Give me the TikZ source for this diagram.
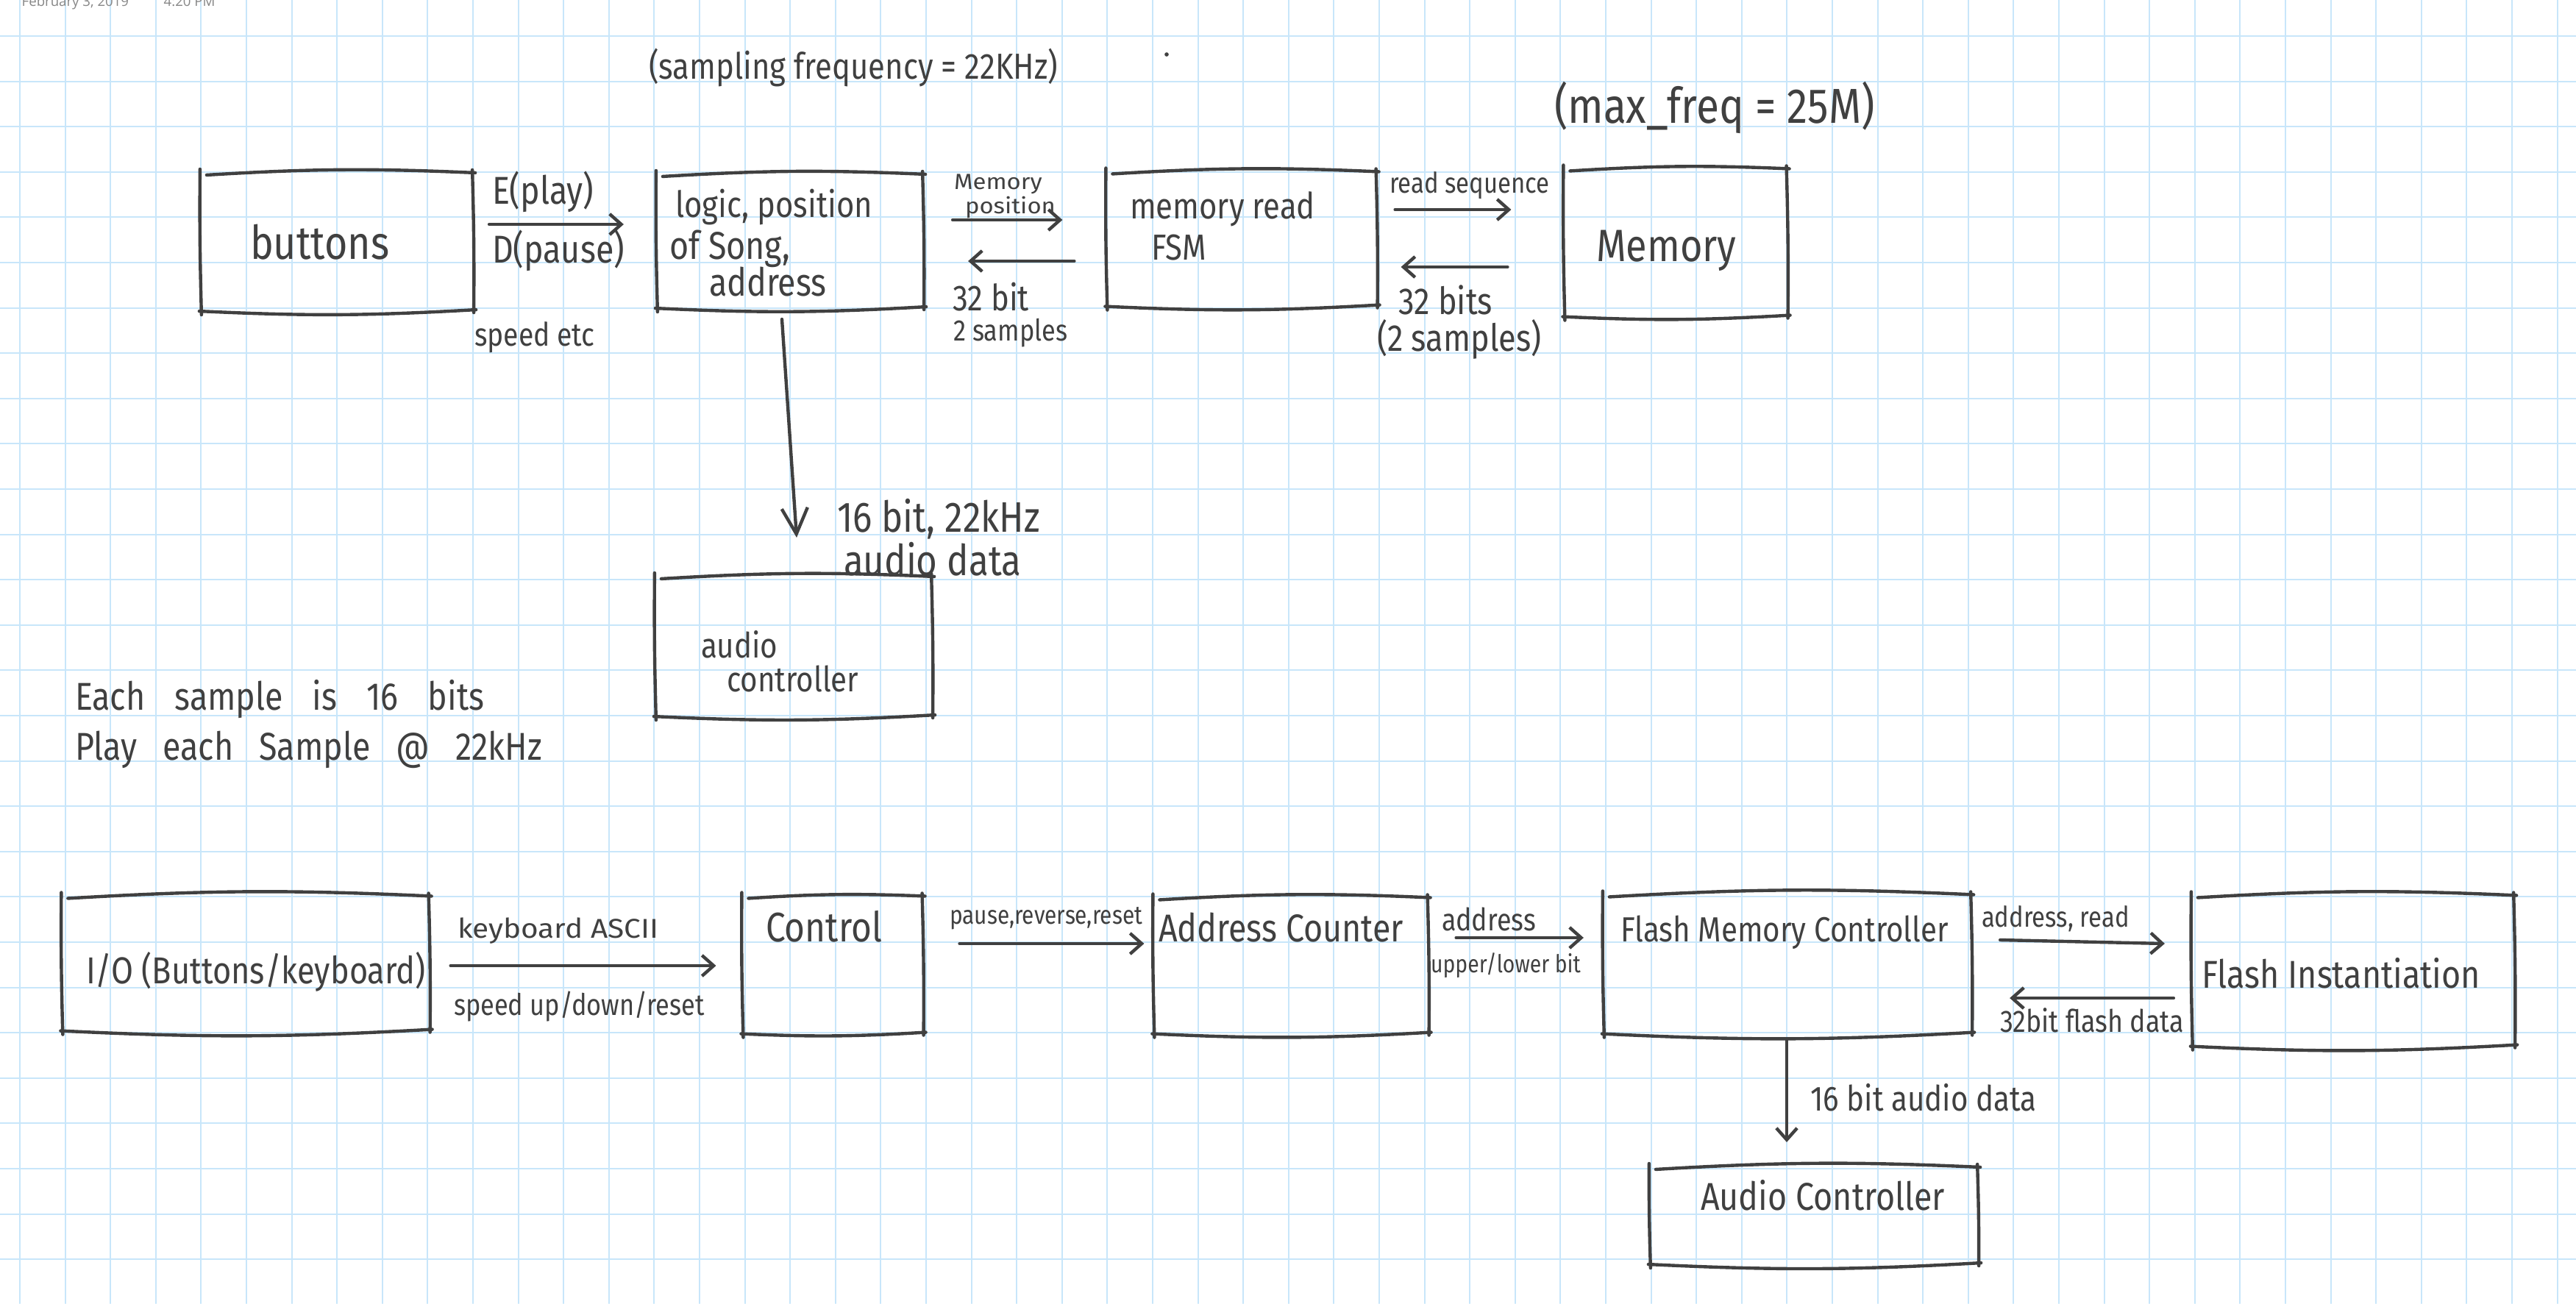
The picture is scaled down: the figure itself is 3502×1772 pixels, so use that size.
\documentclass[tikz,border=0pt]{standalone}
\usepackage{fontspec}
\setmainfont{Fira Sans}[FakeStretch=0.85]
\newfontfamily\handw{Fira Sans}[FakeStretch=1.1]
\newfontfamily\datefont{Open Sans}
\usetikzlibrary{arrows.meta}
\definecolor{ink}{RGB}{64,64,64}
\definecolor{gridblue}{RGB}{200,230,250}
\definecolor{stampgray}{RGB}{135,135,135}
\newcommand{\hsz}[1]{\fontsize{#1pt}{#1pt}\selectfont}

\begin{document}
\begin{tikzpicture}[x=0.01cm, y=-0.01cm, line cap=round, line join=round,
  box/.style={draw=none, inner sep=0, outer sep=0},
  sketch/.style={draw=ink, line width=1.25pt},
  arr/.style={draw=ink, line width=1.25pt, -{Straight Barb[length=4.5pt, width=8pt]}},
  bigarr/.style={draw=ink, line width=1.25pt, -{Straight Barb[length=10pt, width=10pt]}},
  txt/.style={inner sep=0, outer sep=0, text=ink, anchor=base west},
  gridline/.style={draw=gridblue, line width=0.6pt}]

\useasboundingbox (0,0) rectangle (3502,1772);
\fill[white] (0,0) rectangle (3502,1772);

% squared notebook paper
\foreach \k in {0,...,56} {\draw[gridline] ({27+61.6*\k},0) -- ({27+61.6*\k},1772);}
\foreach \k in {0,...,27} {\draw[gridline] (0,{49+61.6*\k}) -- (3502,{49+61.6*\k});}

% page stamp, cut by the top edge
\begin{scope}
  \clip (0,0) rectangle (3502,1772);
  \node[inner sep=0, anchor=base west, text=stampgray, font=\datefont\hsz{5.3}] (stampdate) at (29,8) {February 3, 2019};
  \node[inner sep=0, anchor=base west, text=stampgray, font=\datefont\hsz{5.3}] (stamptime) at (222,8) {4:20 PM};
\end{scope}

% ---------- first sketch: blocks ----------
\node[box, minimum width=3.70cm, minimum height=1.86cm] (buttons) at (458,329) {};
\node[box, minimum width=3.62cm, minimum height=1.80cm] (logic) at (1074,328) {};
\node[box, minimum width=3.67cm, minimum height=1.81cm] (fsm) at (1688,325) {};
\node[box, minimum width=3.03cm, minimum height=1.99cm] (memory) at (2278,330) {};
\node[box, minimum width=3.76cm, minimum height=1.88cm] (audioA) at (1079,879) {};

% ---------- second sketch: blocks ----------
\node[box, minimum width=4.99cm, minimum height=1.81cm] (io) at (334,1310) {};
\node[box, minimum width=2.45cm, minimum height=1.85cm] (control) at (1132,1312) {};
\node[box, minimum width=3.73cm, minimum height=1.83cm] (addr) at (1755,1313) {};
\node[box, minimum width=5.00cm, minimum height=1.87cm] (flashctl) at (2430,1311) {};
\node[box, minimum width=4.38cm, minimum height=2.03cm] (flashinst) at (3199,1320) {};
\node[box, minimum width=4.46cm, minimum height=1.30cm] (audioB) at (2466,1653) {};

% freehand outlines: four separate strokes per block
\foreach \b in {buttons,logic,fsm,memory,audioA,io,control,addr,flashctl,flashinst,audioB}{
  \draw[sketch] ([shift={(8,2)}]\b.north west) to[bend left=3] ([shift={(3,-1)}]\b.north east);
  \draw[sketch] ([shift={(-1,-5)}]\b.north east) to[bend left=1] ([shift={(1,3)}]\b.south east);
  \draw[sketch] ([shift={(4,-1)}]\b.south east) to[bend left=3] ([shift={(-2,1)}]\b.south west);
  \draw[sketch] ([shift={(1,6)}]\b.south west) to[bend left=1] ([shift={(-1,-6)}]\b.north west);
}

% ---------- connectors ----------
\draw[arr] ([shift={(22,-24)}]buttons.east) -- ([shift={(-45,-23)}]logic.west);
\draw[arr] ([shift={(40,-29)}]logic.east) -- ([shift={(-60,-26)}]fsm.west);
\draw[arr] ([shift={(-44,30)}]fsm.west) -- ([shift={(61,27)}]logic.east);
\draw[arr] ([shift={(25,-40)}]fsm.east) -- ([shift={(-72,-45)}]memory.west);
\draw[arr] ([shift={(-77,33)}]memory.west) -- ([shift={(33,38)}]fsm.east);
\draw[bigarr] ([shift={(-11,16)}]logic.south) -- ([shift={(4,-54)}]audioA.north);

\draw[arr] ([shift={(29,3)}]io.east) -- ([shift={(-36,1)}]control.west);
\draw[arr] ([shift={(50,-29)}]control.east) -- ([shift={(-13,-30)}]addr.west);
\draw[arr] ([shift={(38,-38)}]addr.east) -- ([shift={(-27,-36)}]flashctl.west);
\draw[arr] ([shift={(39,-33)}]flashctl.east) -- ([shift={(-37,-37)}]flashinst.west);
\draw[arr] ([shift={(-25,37)}]flashinst.west) -- ([shift={(52,46)}]flashctl.east);
\draw[arr] ([shift={(-1,8)}]flashctl.south) -- ([shift={(-37,-35)}]audioB.north);

% ---------- labels, first sketch ----------
\node[txt, font=\hsz{14}] (tsampling) at (882,107) {(sampling frequency = 22KHz)};
\fill[ink] (1586,74) circle[radius=0.8pt];
\node[txt, font=\hsz{19}] (tmaxfreq) at (2113,167) {(max\_freq = 25M)};

\node[txt, font=\hsz{18}] (tbuttons) at (340,352) {buttons};
\node[txt, font=\hsz{15}] (tplay) at (669,277) {E(play)};
\node[txt, font=\hsz{15}] (tpause) at (669,357) {D(pause)};
\node[txt, font=\hsz{12.5}] (tspeed) at (645,470) {speed etc};

\node[txt, font=\hsz{14}] (tlogicA) at (918,295) {logic, position};
\node[txt, font=\hsz{15}] (tlogicB) at (910,352) {of Song,};
\node[txt, font=\hsz{15}] (tlogicC) at (964,402) {address};

\node[txt, font=\handw\hsz{8.5}] (tmemposA) at (1297,257) {Memory};
\node[txt, font=\handw\hsz{8.5}] (tmemposB) at (1312,290) {position};
\node[txt, font=\hsz{14}] (tbitsA) at (1295,422) {32 bit};
\node[txt, font=\hsz{11.5}] (tsampA) at (1296,463) {2 samples};

\node[txt, font=\hsz{14}] (tfsmA) at (1536,297) {memory read};
\node[txt, font=\hsz{14}] (tfsmB) at (1565,353) {FSM};

\node[txt, font=\hsz{11}] (treadseq) at (1889,262) {read sequence};
\node[txt, font=\hsz{14.5}] (tbitsB) at (1901,427) {32 bits};
\node[txt, font=\hsz{14.5}] (tsampB) at (1872,477) {(2 samples)};

\node[txt, font=\hsz{17.5}] (tmemory) at (2170,355) {Memory};

\node[txt, font=\hsz{16.5}] (taudA1) at (1138,723) {16 bit, 22kHz};
\node[txt, font=\hsz{16.5}] (taudA2) at (1147,782) {audio data};
\node[txt, font=\hsz{13.5}] (tacA) at (953,894) {audio};
\node[txt, font=\hsz{13.5}] (tacB) at (988,940) {controller};

\node[txt, font=\hsz{15}] (tnoteA) at (102,965)
  {Each\hspace{0.4cm}sample\hspace{0.4cm}is\hspace{0.4cm}16\hspace{0.4cm}bits};
\node[txt, font=\hsz{15}] (tnoteB) at (102,1033)
  {Play\hspace{0.35cm}each\hspace{0.35cm}Sample\hspace{0.35cm}@\hspace{0.35cm}22kHz};

% ---------- labels, second sketch ----------
\node[txt, font=\hsz{14.5}] (tio) at (117,1337) {I/O (Buttons/keyboard)};
\node[txt, font=\handw\hsz{10.5}] (tkeyb) at (622,1275) {keyboard ASCII};
\node[txt, font=\hsz{11.5}] (tspeedud) at (617,1380) {speed up/down/reset};
\node[txt, font=\hsz{16}] (tcontrol) at (1041,1280) {Control};
\node[txt, font=\hsz{10}] (tprr) at (1291,1256) {pause,reverse,reset};
\node[txt, font=\hsz{15}] (taddrc) at (1575,1280) {Address Counter};
\node[txt, font=\hsz{12}] (taddr) at (1960,1265) {address};
\node[txt, font=\hsz{9.5}] (tul) at (1945,1322) {upper/lower bit};
\node[txt, font=\hsz{13.5}] (tfmc) at (2203,1280) {Flash Memory Controller};
\node[txt, font=\hsz{11}] (tar) at (2694,1260) {address, read};
\node[txt, font=\hsz{12}] (tfd) at (2719,1403) {32bit flash data};
\node[txt, font=\hsz{15}] (tfi) at (2993,1343) {Flash Instantiation};
\node[txt, font=\hsz{13.5}] (taudB1) at (2461,1510) {16 bit audio data};
\node[txt, font=\hsz{15}] (taudB2) at (2312,1645) {Audio Controller};

\end{tikzpicture}
\end{document}
